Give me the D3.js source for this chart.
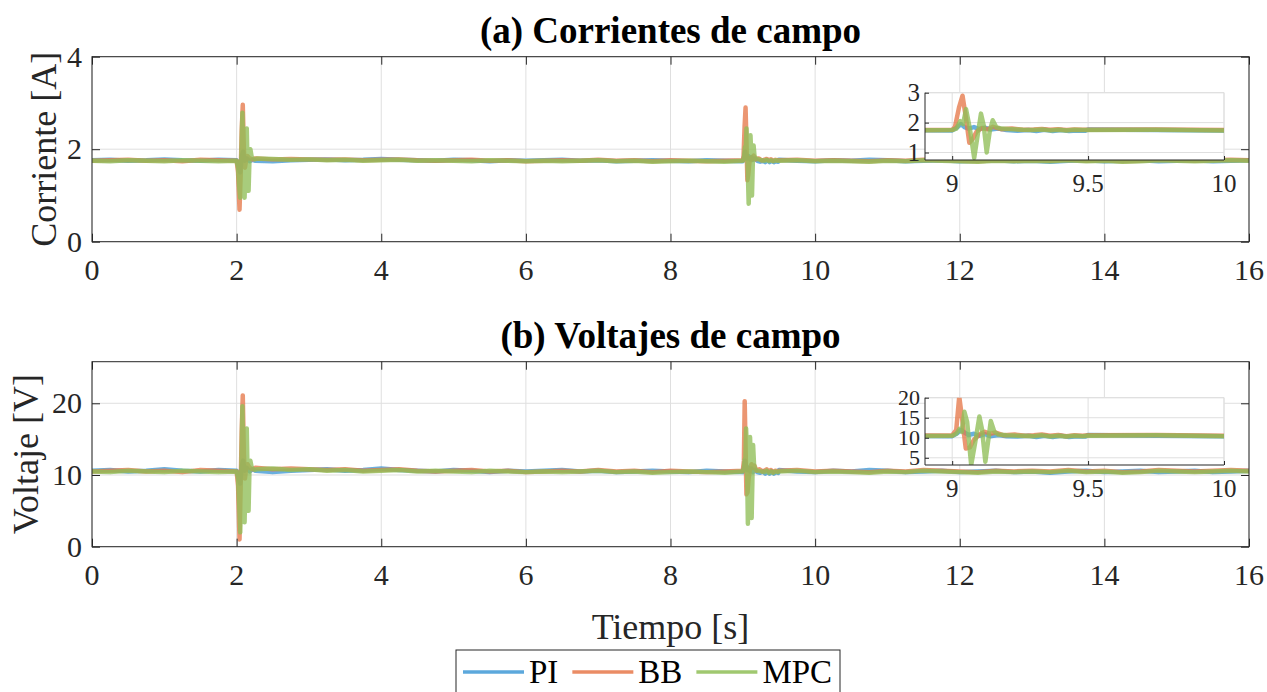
<!DOCTYPE html>
<html>
<head>
<meta charset="utf-8">
<script src="https://cdn.jsdelivr.net/npm/d3@7"></script>
<style>
body { margin: 0; background: #fff; }
svg { font-family: "Liberation Serif", "Times New Roman", serif; }
text.num { font-family: "Liberation Serif", "DejaVu Serif", serif; }
</style>
</head>
<body>
<script>
var w = 1267;
var h = 692;

// ---- data ----
var seriesNames = ["PI", "BB", "MPC"];
var seriesColors = ["#3f99d6", "#e6784a", "#8fbe57"];

var xTicks = [0, 2, 4, 6, 8, 10, 12, 14, 16];
var currentTicks = [0, 2, 4];
var voltageTicks = [0, 10, 20];
var insetXTicks = [9, 9.5, 10];
var insetCurrentTicks = [1, 2, 3];
var insetVoltageTicks = [5, 10, 15, 20];

// steady samples every 0.25 s from 0 to 16
var baseStep = 0.25;
var piCurrent = [
  1.76,1.77,1.75,1.76,1.78,1.76,1.75,1.77,1.76,1.75,1.74,1.76,1.77,
  1.78,1.76,1.77,1.79,1.77,1.76,1.75,1.77,1.76,1.74,1.76,1.75,1.76,
  1.77,1.75,1.76,1.74,1.75,1.76,1.75,1.74,1.76,1.75,1.74,1.76,1.77,
  1.75,1.74,1.76,1.75,1.77,1.76,1.74,1.75,1.76,1.74,1.75,1.76,1.74,
  1.75,1.73,1.75,1.76,1.74,1.75,1.76,1.74,1.75,1.76,1.74,1.75,1.76];
var bbCurrent = [
  1.75,1.76,1.77,1.75,1.76,1.74,1.77,1.76,1.75,1.76,1.78,1.79,1.78,
  1.77,1.78,1.76,1.77,1.78,1.76,1.75,1.76,1.77,1.75,1.76,1.74,1.75,
  1.76,1.75,1.77,1.75,1.76,1.74,1.76,1.75,1.74,1.75,1.76,1.75,1.76,
  1.77,1.75,1.76,1.75,1.74,1.76,1.75,1.77,1.76,1.75,1.74,1.76,1.75,
  1.76,1.75,1.77,1.75,1.76,1.74,1.75,1.77,1.76,1.75,1.76,1.77,1.76];
var mpcCurrent = [
  1.75,1.74,1.76,1.75,1.74,1.76,1.75,1.74,1.75,1.76,1.79,1.77,1.78,
  1.76,1.77,1.75,1.76,1.77,1.75,1.76,1.75,1.74,1.76,1.75,1.74,1.75,
  1.74,1.75,1.76,1.74,1.75,1.73,1.74,1.75,1.74,1.73,1.75,1.74,1.75,
  1.76,1.74,1.75,1.74,1.73,1.75,1.74,1.76,1.75,1.74,1.73,1.75,1.74,
  1.75,1.74,1.76,1.74,1.75,1.73,1.74,1.76,1.75,1.74,1.75,1.76,1.75];
var piVoltage = [
  10.6,10.7,10.5,10.6,10.8,10.6,10.5,10.7,10.6,10.5,10.4,10.6,10.7,
  10.8,10.6,10.7,10.9,10.7,10.6,10.5,10.7,10.6,10.4,10.6,10.5,10.6,
  10.7,10.5,10.6,10.4,10.5,10.6,10.5,10.4,10.6,10.5,10.4,10.6,10.7,
  10.5,10.4,10.6,10.5,10.7,10.6,10.4,10.5,10.6,10.4,10.5,10.6,10.4,
  10.5,10.3,10.5,10.6,10.4,10.5,10.6,10.4,10.5,10.6,10.4,10.5,10.6];
var bbVoltage = [
  10.5,10.6,10.7,10.5,10.6,10.4,10.7,10.6,10.5,10.6,10.8,10.9,10.8,
  10.7,10.8,10.6,10.7,10.8,10.6,10.5,10.6,10.7,10.5,10.6,10.4,10.5,
  10.6,10.5,10.7,10.5,10.6,10.4,10.6,10.5,10.4,10.5,10.6,10.5,10.6,
  10.7,10.5,10.6,10.5,10.4,10.6,10.5,10.7,10.6,10.5,10.4,10.6,10.5,
  10.6,10.5,10.7,10.5,10.6,10.4,10.5,10.7,10.6,10.5,10.6,10.7,10.6];
var mpcVoltage = [
  10.5,10.4,10.6,10.5,10.4,10.6,10.5,10.4,10.5,10.6,10.9,10.7,10.8,
  10.6,10.7,10.5,10.6,10.7,10.5,10.6,10.5,10.4,10.6,10.5,10.4,10.5,
  10.4,10.5,10.6,10.4,10.5,10.3,10.4,10.5,10.4,10.3,10.5,10.4,10.5,
  10.6,10.4,10.5,10.4,10.3,10.5,10.4,10.6,10.5,10.4,10.3,10.5,10.4,
  10.5,10.4,10.6,10.4,10.5,10.3,10.4,10.6,10.5,10.4,10.5,10.6,10.5];

// transients around the two disturbances, [t, value]
var eventWindows = [[2.0, 2.3], [9.0, 9.5]];
var piCurrentEvents = [
  [2.03,1.6],[2.05,1.5],[2.07,1.85],[2.09,1.95],[2.11,1.75],[2.14,1.8],[2.18,1.74],[2.22,1.77],[2.26,1.75],
  [9.02,1.85],[9.032,1.95],[9.045,1.85],[9.06,1.8],[9.08,1.85],[9.1,1.78],[9.12,1.83],[9.14,1.77],[9.17,1.8],
  [9.2,1.75],[9.24,1.73],[9.28,1.75],[9.31,1.72],[9.34,1.76],[9.37,1.72],[9.4,1.75],[9.43,1.72],[9.46,1.74],[9.49,1.73]];
var bbCurrentEvents = [
  [2.02,1.5],[2.04,0.69],[2.055,1.4],[2.07,2.4],[2.085,2.96],[2.1,2.0],[2.115,1.6],[2.13,1.75],[2.15,1.85],[2.18,1.8],[2.22,1.78],[2.26,1.8],
  [9.01,1.85],[9.025,2.5],[9.038,2.9],[9.05,2.2],[9.063,1.33],[9.075,1.45],[9.09,1.7],[9.11,1.82],[9.13,1.78],[9.15,1.86],
  [9.18,1.78],[9.22,1.8],[9.26,1.76],[9.3,1.77],[9.33,1.79],[9.36,1.76],[9.39,1.78],[9.42,1.75],[9.45,1.77],[9.48,1.76]];
var mpcCurrentEvents = [
  [2.02,1.6],[2.035,1.2],[2.05,0.95],[2.065,1.8],[2.08,2.79],[2.095,1.6],[2.11,0.95],[2.125,1.9],[2.14,2.45],[2.152,1.6],
  [2.165,1.1],[2.178,1.8],[2.19,2.0],[2.21,1.82],[2.25,1.78],[2.28,1.8],
  [9.015,1.8],[9.03,2.05],[9.04,1.95],[9.051,2.45],[9.065,1.8],[9.081,0.82],[9.094,1.6],[9.106,2.3],[9.116,1.9],[9.127,1.0],
  [9.138,1.7],[9.149,2.08],[9.162,1.85],[9.18,1.8],[9.22,1.78],[9.26,1.76],[9.3,1.75],[9.33,1.77],[9.36,1.74],[9.39,1.76],
  [9.42,1.74],[9.45,1.76],[9.48,1.75]];
var piVoltageEvents = [
  [2.03,9.5],[2.05,8.8],[2.07,11.2],[2.09,12],[2.11,10.6],[2.14,11],[2.18,10.5],[2.22,10.8],[2.26,10.6],
  [9.02,11.2],[9.032,12],[9.045,11.3],[9.06,10.7],[9.08,11.0],[9.1,10.5],[9.12,10.9],[9.14,10.4],[9.17,10.7],
  [9.2,10.4],[9.24,10.3],[9.28,10.5],[9.31,10.2],[9.34,10.5],[9.37,10.2],[9.4,10.5],[9.43,10.2],[9.46,10.4],[9.49,10.3]];
var bbVoltageEvents = [
  [2.02,8.5],[2.04,1.0],[2.055,8],[2.07,16],[2.085,21.1],[2.1,13],[2.115,9.5],[2.13,10.8],[2.15,11.5],[2.18,11],[2.22,10.8],[2.26,11],
  [9.015,12],[9.026,20.3],[9.038,14],[9.05,7.3],[9.065,7.6],[9.08,9.5],[9.1,10.8],[9.12,11.5],[9.14,11.0],[9.16,11.3],
  [9.19,10.6],[9.23,10.8],[9.27,10.5],[9.3,10.6],[9.33,10.8],[9.36,10.5],[9.39,10.7],[9.42,10.4],[9.45,10.6],[9.48,10.5]];
var mpcVoltageEvents = [
  [2.02,9.5],[2.035,6],[2.05,2.0],[2.065,10],[2.08,19.6],[2.095,10],[2.11,3.4],[2.125,11],[2.14,16.5],[2.152,10],
  [2.165,5],[2.178,11],[2.19,12],[2.21,11],[2.25,10.7],[2.28,10.8],
  [9.015,11],[9.027,12.2],[9.035,11.5],[9.045,16.5],[9.055,14],[9.07,3.2],[9.085,9],[9.1,15.3],[9.11,12],[9.122,4],
  [9.132,9],[9.142,14.2],[9.155,11.5],[9.17,10.8],[9.2,10.6],[9.25,10.5],[9.3,10.4],[9.33,10.6],[9.36,10.3],[9.39,10.5],
  [9.42,10.3],[9.45,10.5],[9.48,10.4]];

// ---- helpers ----
function buildSeries(base, events) {
  var pts = [];
  base.forEach(function(v, i) {
    var t = i * baseStep;
    var inside = eventWindows.some(function(win) { return t > win[0] && t < win[1]; });
    if (!inside) pts.push([t, v]);
  });
  pts = pts.concat(events);
  pts.sort(function(a, b) { return a[0] - b[0]; });
  return pts;
}

var frameColor = "#262626";
var gridColor = "#dfdfdf";
var left = 92, right = 1249;

var svg = d3.select("body")
  .append("svg")
  .attr("width", w)
  .attr("height", h);

var defs = svg.append("defs");

// tick marks only, labels drawn as plain text below
function tickLines(g) {
  g.attr("font-family", null).attr("font-size", null);
  g.select(".domain").remove();
  g.selectAll(".tick line").attr("stroke", frameColor);
  g.selectAll(".tick text").remove();
}

function xLabels(g, scale, ticks, y, size, fmt) {
  g.append("g").selectAll("text").data(ticks).enter().append("text")
    .attr("class", "num")
    .attr("x", function(d) { return scale(d); })
    .attr("y", y)
    .attr("text-anchor", "middle")
    .attr("font-size", size + "px")
    .attr("fill", frameColor)
    .text(fmt);
}

function yLabels(g, scale, ticks, x, size, fmt) {
  g.append("g").selectAll("text").data(ticks).enter().append("text")
    .attr("class", "num")
    .attr("x", x)
    .attr("y", function(d) { return scale(d); })
    .attr("dy", "0.34em")
    .attr("text-anchor", "end")
    .attr("font-size", size + "px")
    .attr("fill", frameColor)
    .text(fmt);
}

var fmt = d3.format("~g");

function drawPanel(p, idx) {
  var xScale = d3.scaleLinear().domain([0, 16]).range([left, right]);
  var yScale = d3.scaleLinear().domain(p.yDomain).range([p.bottom, p.top]);
  var g = svg.append("g");

  // grid
  g.selectAll(".gx").data(xTicks).enter().append("line")
    .attr("x1", function(d) { return xScale(d); }).attr("x2", function(d) { return xScale(d); })
    .attr("y1", p.top).attr("y2", p.bottom)
    .attr("stroke", gridColor);
  g.selectAll(".gy").data(p.yTicks).enter().append("line")
    .attr("x1", left).attr("x2", right)
    .attr("y1", function(d) { return yScale(d); }).attr("y2", function(d) { return yScale(d); })
    .attr("stroke", gridColor);

  // lines
  defs.append("clipPath").attr("id", "clip" + idx)
    .append("rect").attr("x", left).attr("y", p.top)
    .attr("width", right - left).attr("height", p.bottom - p.top);
  var line = d3.line()
    .x(function(d) { return xScale(d[0]); })
    .y(function(d) { return yScale(d[1]); });
  var lg = g.append("g").attr("clip-path", "url(#clip" + idx + ")");
  p.series.forEach(function(s, i) {
    lg.append("path").datum(s)
      .attr("d", line)
      .attr("fill", "none")
      .attr("stroke", seriesColors[i])
      .attr("stroke-width", 4.5)
      .attr("stroke-opacity", 0.78)
      .attr("stroke-linejoin", "round");
  });

  // frame + ticks
  g.append("rect").attr("x", left).attr("y", p.top)
    .attr("width", right - left).attr("height", p.bottom - p.top)
    .attr("fill", "none").attr("stroke", frameColor);

  g.append("g").attr("transform", "translate(0," + p.bottom + ")")
    .call(d3.axisBottom(xScale).tickValues(xTicks).tickSize(-8)).call(tickLines);
  g.append("g").attr("transform", "translate(0," + p.top + ")")
    .call(d3.axisTop(xScale).tickValues(xTicks).tickSize(-8)).call(tickLines);
  g.append("g").attr("transform", "translate(" + left + ",0)")
    .call(d3.axisLeft(yScale).tickValues(p.yTicks).tickSize(-8)).call(tickLines);
  g.append("g").attr("transform", "translate(" + right + ",0)")
    .call(d3.axisRight(yScale).tickValues(p.yTicks).tickSize(-8)).call(tickLines);
  xLabels(g, xScale, xTicks, p.bottom + 38, 30, fmt);
  yLabels(g, yScale, p.yTicks, left - 10, 30, fmt);

  // title + y label
  g.append("text").attr("x", (left + right) / 2).attr("y", p.top - 14)
    .attr("text-anchor", "middle").attr("font-weight", "bold").attr("font-size", "37px")
    .attr("fill", "#000").text(p.title);
  g.append("text")
    .attr("transform", "translate(" + p.ylabelX + "," + ((p.top + p.bottom) / 2) + ") rotate(-90)")
    .attr("text-anchor", "middle").attr("font-size", "36px").attr("fill", frameColor)
    .text(p.ylabel);

  // inset
  var ix = d3.scaleLinear().domain([8.9, 10]).range([925, 1224]);
  var iy = d3.scaleLinear().domain(p.insetDomain).range([p.insetBottom, p.insetTop]);
  var ig = g.append("g");
  ig.append("rect").attr("x", 925).attr("y", p.insetTop)
    .attr("width", 1224 - 925).attr("height", p.insetBottom - p.insetTop)
    .attr("fill", "#fff");
  ig.selectAll(".igx").data(insetXTicks).enter().append("line")
    .attr("x1", function(d) { return ix(d); }).attr("x2", function(d) { return ix(d); })
    .attr("y1", p.insetTop).attr("y2", p.insetBottom).attr("stroke", gridColor);
  ig.selectAll(".igy").data(p.insetTicks).enter().append("line")
    .attr("x1", 925).attr("x2", 1224)
    .attr("y1", function(d) { return iy(d); }).attr("y2", function(d) { return iy(d); })
    .attr("stroke", gridColor);
  ig.append("line").attr("x1", 925).attr("x2", 1224).attr("y1", p.insetTop).attr("y2", p.insetTop).attr("stroke", gridColor);
  ig.append("line").attr("x1", 1224).attr("x2", 1224).attr("y1", p.insetTop).attr("y2", p.insetBottom).attr("stroke", gridColor);

  defs.append("clipPath").attr("id", "iclip" + idx)
    .append("rect").attr("x", 925).attr("y", p.insetTop)
    .attr("width", 1224 - 925).attr("height", p.insetBottom - p.insetTop);
  var iline = d3.line()
    .x(function(d) { return ix(d[0]); })
    .y(function(d) { return iy(d[1]); });
  var ilg = ig.append("g").attr("clip-path", "url(#iclip" + idx + ")");
  p.series.forEach(function(s, i) {
    ilg.append("path").datum(s.filter(function(d) { return d[0] >= 8.5 && d[0] <= 10.5; }))
      .attr("d", iline)
      .attr("fill", "none")
      .attr("stroke", seriesColors[i])
      .attr("stroke-width", 4.5)
      .attr("stroke-opacity", 0.78)
      .attr("stroke-linejoin", "round");
  });
  ig.append("line").attr("x1", 925).attr("x2", 925).attr("y1", p.insetTop).attr("y2", p.insetBottom).attr("stroke", frameColor);
  ig.append("line").attr("x1", 925).attr("x2", 1224).attr("y1", p.insetBottom).attr("y2", p.insetBottom).attr("stroke", frameColor);
  ig.append("g").attr("transform", "translate(0," + p.insetBottom + ")")
    .call(d3.axisBottom(ix).tickValues(insetXTicks).tickSize(-4)).call(tickLines);
  ig.append("g").attr("transform", "translate(925,0)")
    .call(d3.axisLeft(iy).tickValues(p.insetTicks).tickSize(-4)).call(tickLines);
  xLabels(ig, ix, insetXTicks, p.insetBottom + 32, 25, fmt);
  yLabels(ig, iy, p.insetTicks, 920, p.insetFont, fmt);
}

var panels = [
  {
    title: "(a) Corrientes de campo", ylabel: "Corriente [A]", ylabelX: 56,
    top: 56.7, bottom: 241.7, yDomain: [0, 4], yTicks: currentTicks,
    insetTop: 92.7, insetBottom: 160, insetDomain: [0.75, 3], insetTicks: insetCurrentTicks, insetFont: 25,
    series: [buildSeries(piCurrent, piCurrentEvents), buildSeries(bbCurrent, bbCurrentEvents), buildSeries(mpcCurrent, mpcCurrentEvents)]
  },
  {
    title: "(b) Voltajes de campo", ylabel: "Voltaje [V]", ylabelX: 38,
    top: 361.7, bottom: 546.7, yDomain: [0, 25.8], yTicks: voltageTicks,
    insetTop: 397.7, insetBottom: 465, insetDomain: [3.2, 20], insetTicks: insetVoltageTicks, insetFont: 22,
    series: [buildSeries(piVoltage, piVoltageEvents), buildSeries(bbVoltage, bbVoltageEvents), buildSeries(mpcVoltage, mpcVoltageEvents)]
  }
];
panels.forEach(drawPanel);

// x label
svg.append("text").attr("x", (left + right) / 2).attr("y", 639)
  .attr("text-anchor", "middle").attr("font-size", "36px").attr("fill", frameColor)
  .text("Tiempo [s]");

// legend
var leg = svg.append("g").attr("transform", "translate(456,650)");
leg.append("rect").attr("x", 0).attr("y", 0).attr("width", 384).attr("height", 60)
  .attr("fill", "#fff").attr("stroke", frameColor);
var lx = 7;
seriesNames.forEach(function(name, i) {
  leg.append("line").attr("x1", lx).attr("x2", lx + 61).attr("y1", 22).attr("y2", 22)
    .attr("stroke", seriesColors[i]).attr("stroke-width", 3.5).attr("stroke-opacity", 0.85);
  var t = leg.append("text").attr("x", lx + 66).attr("y", 33)
    .attr("font-size", "33px").attr("fill", "#000").text(name);
  lx = lx + 66 + t.node().getComputedTextLength() + 14;
});
</script>
</body>
</html>
